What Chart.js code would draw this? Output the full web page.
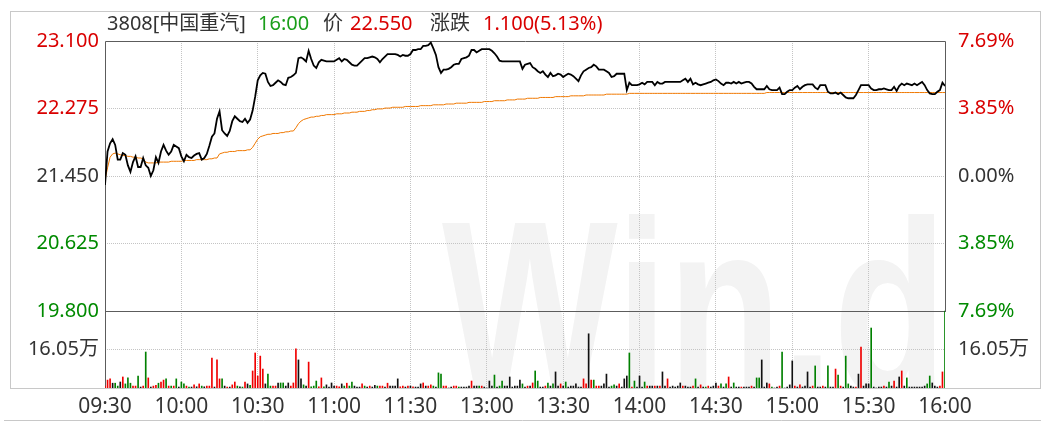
<!DOCTYPE html>
<html>
<head>
<meta charset="utf-8">
<title>3808 中国重汽 分时</title>
<script src="https://cdn.jsdelivr.net/npm/chart.js@4.4.1/dist/chart.umd.min.js"></script>
<style>
html,body{margin:0;padding:0;background:#fff;}
#wrap{width:1046px;height:428px;position:relative;}
</style>
</head>
<body>
<div id="wrap"><canvas id="chart" width="1046" height="428"></canvas></div>
<script>
// 时间刻度 (午休 12:00-13:00 不占位)
const timeLabels=['09:30','10:00','10:30','11:00','11:30','13:00','13:30','14:00','14:30','15:00','15:30','16:00'];
const prevClose=21.45;
const priceTicks=[19.8,20.625,21.45,22.275,23.1];
const pctLabels=['7.69%','3.85%','0.00%','3.85%','7.69%'];
const volTicks=[16.05];
const volTop=32.1;
const titleTexts=['3808[中国重汽]','16:00','价','22.550','涨跌','1.100(5.13%)'];

// 每分钟价格
const prices=[
21.34,21.75,21.85,21.90,21.83,21.65,21.65,21.73,21.71,21.58,
21.50,21.62,21.69,21.56,21.56,21.67,21.58,21.55,21.45,21.52,
21.68,21.61,21.75,21.83,21.76,21.71,21.75,21.83,21.81,21.79,
21.69,21.63,21.71,21.68,21.67,21.70,21.72,21.73,21.65,21.67,
21.72,21.82,21.93,21.97,22.15,22.24,22.01,21.97,21.94,22.00,
22.12,22.18,22.15,22.12,22.11,22.15,22.10,22.14,22.25,22.42,
22.62,22.68,22.71,22.70,22.60,22.55,22.56,22.59,22.62,22.60,
22.57,22.56,22.65,22.66,22.68,22.71,22.89,22.90,22.88,22.85,
22.98,22.88,22.80,22.77,22.84,22.87,22.86,22.85,22.85,22.85,
22.85,22.87,22.89,22.85,22.88,22.87,22.84,22.81,22.80,22.80,
22.83,22.86,22.89,22.89,22.90,22.91,22.90,22.88,22.84,22.88,
22.91,22.94,22.94,22.94,22.94,22.93,22.91,22.93,22.92,22.92,
22.94,22.99,22.99,23.00,23.00,23.04,23.04,23.05,23.08,23.01,
22.93,22.78,22.71,22.75,22.75,22.76,22.78,22.81,22.82,22.82,
22.88,22.89,22.90,22.92,22.99,22.99,22.96,22.98,23.00,23.00,
23.00,23.00,22.98,22.95,22.91,22.86,22.85,22.85,22.85,22.85,
22.85,22.85,22.85,22.85,22.76,22.81,22.82,22.83,22.78,22.76,
22.73,22.71,22.73,22.69,22.66,22.71,22.67,22.68,22.70,22.69,
22.66,22.68,22.70,22.69,22.67,22.64,22.61,22.68,22.73,22.75,
22.77,22.78,22.81,22.79,22.75,22.75,22.75,22.73,22.71,22.66,
22.67,22.70,22.70,22.70,22.70,22.50,22.59,22.56,22.56,22.56,
22.57,22.59,22.57,22.60,22.60,22.60,22.56,22.60,22.58,22.58,
22.60,22.60,22.60,22.60,22.60,22.60,22.60,22.62,22.64,22.60,
22.64,22.57,22.59,22.57,22.56,22.57,22.58,22.59,22.60,22.62,
22.63,22.61,22.58,22.56,22.59,22.59,22.58,22.60,22.58,22.60,
22.58,22.59,22.60,22.60,22.58,22.54,22.51,22.51,22.51,22.51,
22.55,22.51,22.50,22.50,22.50,22.53,22.45,22.45,22.48,22.50,
22.50,22.53,22.55,22.51,22.54,22.56,22.57,22.57,22.57,22.53,
22.51,22.56,22.56,22.56,22.48,22.46,22.46,22.47,22.45,22.47,
22.44,22.41,22.40,22.40,22.40,22.44,22.50,22.56,22.56,22.56,
22.56,22.52,22.50,22.50,22.51,22.51,22.52,22.51,22.50,22.50,
22.54,22.49,22.55,22.58,22.56,22.58,22.57,22.56,22.58,22.56,
22.58,22.60,22.56,22.50,22.46,22.45,22.45,22.48,22.50,22.59,
22.55];

// 均价
const avgPrices=[
21.40,21.55,21.68,21.72,21.73,21.72,21.71,21.70,21.70,21.69,
21.69,21.68,21.68,21.67,21.67,21.66,21.62,21.61,21.61,21.61,
21.61,21.62,21.62,21.62,21.62,21.62,21.63,21.63,21.63,21.63,
21.63,21.64,21.64,21.64,21.64,21.64,21.65,21.65,21.65,21.65,
21.65,21.66,21.66,21.67,21.67,21.72,21.73,21.74,21.74,21.75,
21.75,21.75,21.76,21.76,21.76,21.76,21.77,21.77,21.80,21.85,
21.90,21.93,21.94,21.95,21.96,21.96,21.97,21.97,21.97,21.98,
21.98,21.99,21.99,22.00,22.00,22.04,22.09,22.12,22.14,22.15,
22.16,22.17,22.17,22.18,22.18,22.19,22.19,22.20,22.20,22.20,
22.20,22.21,22.21,22.21,22.22,22.22,22.22,22.23,22.23,22.23,
22.24,22.24,22.24,22.25,22.25,22.26,22.26,22.27,22.27,22.27,
22.28,22.28,22.28,22.29,22.29,22.29,22.29,22.29,22.30,22.30,
22.30,22.30,22.30,22.30,22.31,22.31,22.31,22.31,22.31,22.32,
22.32,22.32,22.32,22.32,22.33,22.33,22.33,22.33,22.34,22.34,
22.34,22.34,22.34,22.35,22.35,22.35,22.35,22.35,22.35,22.36,
22.36,22.36,22.36,22.37,22.37,22.37,22.37,22.37,22.38,22.38,
22.38,22.38,22.39,22.39,22.39,22.39,22.40,22.40,22.40,22.40,
22.40,22.41,22.41,22.41,22.41,22.41,22.41,22.42,22.42,22.42,
22.42,22.42,22.42,22.43,22.43,22.43,22.43,22.43,22.43,22.44,
22.44,22.44,22.44,22.44,22.44,22.44,22.44,22.45,22.45,22.45,
22.45,22.45,22.45,22.45,22.45,22.45,22.46,22.46,22.46,22.46,
22.46,22.46,22.46,22.46,22.46,22.46,22.46,22.46,22.46,22.46,
22.46,22.46,22.46,22.46,22.46,22.46,22.46,22.46,22.46,22.46,
22.46,22.46,22.46,22.46,22.46,22.46,22.46,22.46,22.46,22.46,
22.46,22.46,22.46,22.46,22.46,22.46,22.46,22.46,22.46,22.46,
22.46,22.46,22.46,22.46,22.46,22.46,22.46,22.46,22.46,22.46,
22.47,22.47,22.47,22.47,22.47,22.47,22.47,22.47,22.47,22.47,
22.47,22.47,22.47,22.47,22.47,22.47,22.47,22.47,22.47,22.47,
22.47,22.47,22.47,22.47,22.47,22.47,22.47,22.47,22.47,22.47,
22.47,22.47,22.47,22.47,22.47,22.47,22.47,22.47,22.47,22.47,
22.47,22.47,22.47,22.47,22.47,22.47,22.47,22.47,22.47,22.47,
22.47,22.47,22.47,22.47,22.47,22.47,22.47,22.47,22.47,22.47,
22.47,22.47,22.47,22.47,22.47,22.47,22.47,22.47,22.47,22.47,
22.47];

// 成交量 (万股)
const volumes=[
0.8,3.3,3.8,2.0,2.0,0.8,2.5,4.6,1.7,4.2,
2.0,0.8,0.8,5.0,0.4,0.8,15.0,4.2,0.4,0.8,
1.1,2.0,2.5,3.3,3.8,0.8,0.8,0.8,3.8,0.4,
2.5,1.7,0.8,0.4,0.4,1.3,0.5,1.7,0.8,0.5,
0.8,0.8,12.5,0.4,11.7,3.8,3.8,0.8,0.4,0.4,
1.3,2.5,0.8,0.5,0.4,2.5,1.7,1.1,7.1,14.6,
5.0,13.3,7.9,1.7,5.8,0.8,0.8,0.8,2.1,2.1,
2.1,0.8,2.1,0.8,2.1,16.3,11.7,3.8,1.3,0.8,
10.8,0.5,0.8,2.9,0.5,4.2,0.5,1.3,0.4,2.1,
0.8,0.8,0.5,1.7,0.8,2.0,0.8,2.5,0.8,0.4,
0.4,1.7,0.8,0.4,0.8,0.4,1.1,0.8,0.8,0.8,
0.4,2.0,0.8,0.8,0.8,3.8,0.5,0.8,0.4,0.8,
0.8,0.5,0.4,0.4,1.7,2.1,0.8,0.8,1.3,0.8,
0.4,6.3,5.8,0.8,0.8,0,0.4,0.8,0.8,0.4,
0.4,0.4,0.4,0.8,2.9,0.8,0.8,0.8,0.8,0.4,
0,2.9,0.8,5.4,0.4,0.8,2.9,0.8,0.8,4.6,
0.4,0.8,0.8,3.3,1.7,0.4,0.8,0.8,2.1,7.1,
2.9,0.4,0.4,0.8,2.1,0.8,1.7,6.7,0.8,1.7,
0.8,2.5,0.4,0.8,0.8,1.7,0.4,0.4,3.8,1.7,
22.6,3.3,3.3,0.8,0.8,0.8,1.7,5.8,0.4,0.8,
1.3,0.8,1.7,0.4,3.8,5.0,14.6,0.4,2.9,0.4,
5.0,0.4,2.5,0.8,0.8,0.8,0.8,0.8,0.8,6.7,
0.8,3.8,0.4,0.8,0.4,0.8,2.1,0.8,0.8,0.4,
0.4,0.8,3.8,0.4,1.3,0.4,0.4,0.8,0.4,0.8,
2.1,0.8,1.7,0.4,1.7,4.6,0.4,2.1,0.4,0.4,
0.4,0.4,0.4,0.4,0.8,0.4,4.2,4.2,11.7,0.4,
2.1,1.7,0.4,0,0.4,0.8,15.0,0,0.4,1.3,
11.3,0.8,0.4,1.3,0.4,0.8,6.7,0.4,0.8,9.2,
0.4,0.4,0.8,0.4,9.2,0.4,0.4,7.9,5.4,0.8,
0.4,13.3,1.7,0.8,0.4,0.4,5.8,17.1,0.8,1.7,
1.7,25.0,0.4,0,0.4,0.4,0.8,0.4,2.5,0.8,
2.9,0.4,4.6,7.1,0.8,4.2,0.4,0.4,0.4,0.4,
0.4,0.4,0.8,1.7,5.0,2.1,0.8,0.4,0.8,6.7,
32.1];

// 量柱颜色: r 涨 g 跌 k 平
const volDirs=[
'rrrkggkrgg','grrgkrgrkr','rgrrgrgrgk','ggrgkrkrgk','rrrkrrgkrk',
'rrgkgrkgrr','rrrkggrrkg','gkkrrrkkgk','rgggrrgkkk','krrkgrggkk',
'krgkrkkgrr','krkkkkrrkr','krkkkrkrrg','kggrrkkrrg','kkkkrkkgrk',
'kkkgkggkkk','kkkkgkrkrg','gkkrgkgkkr','kgkkkkkkrr','krgrrkkkkg',
'gkrkkkgrgk','kkgrkkrkrk','krkkkkkrkk','krgkrkgrkk','krgkgrkgkk',
'rkkkrkggkk','krgkkrgkkk','krkrkkkkrg','kkrkgkkrgr','kggkkrkrkk',
'kgkkkkrkgk','rkkrkgkkkk','kkkggkkkrr','g'].join('');

const RED='#d90000', GREEN='#008a00', DARK='#333333', GRID='#c4c4c4';
const dirColor={r:'#f00000',g:'#008000',k:'#111111'};
const FONT='"Noto Sans", "Noto Sans CJK SC", sans-serif';

// 价格区与成交量区高度比
const pricePane=270, volPane=77;
const priceMax=priceTicks[priceTicks.length-1];
const priceMin=priceTicks[0]-(priceMax-priceTicks[0])*volPane/pricePane;
const volMax=volTop*(pricePane+volPane)/volPane;
// 成交量刻度换算到价格轴上的位置
const volTickPos=volTicks.map(v=>priceMin+v/volMax*(priceMax-priceMin));
const axisTicks=volTickPos.concat(priceTicks);
const nVol=volTicks.length;

const tickColor=(v,i)=> i<nVol?DARK:(v>prevClose+1e-9?RED:(v<prevClose-1e-9?GREEN:DARK));
const volLabel=i=>volTicks[i].toFixed(2)+'万';

const bgPlugin={
  id:'bg',
  beforeDraw(chart){
    const c=chart.ctx, a=chart.chartArea;
    c.save();
    c.fillStyle='#fff';
    c.fillRect(0,0,chart.width,chart.height);
    // 外框
    c.strokeStyle='#c8c8c8';
    c.lineWidth=1;
    c.strokeRect(10.5,11.5,1030,377);
    c.beginPath();c.moveTo(4,420.5);c.lineTo(1041,420.5);c.stroke();
    // 水印
    c.beginPath();c.rect(a.left,a.top,a.right-a.left,a.bottom-a.top);c.clip();
    c.fillStyle='#f3f3f3';
    c.font='bold 245px "Liberation Sans", Arial, sans-serif';
    c.translate(442,392);
    c.scale(0.76,1);
    c.fillText('Win.d',0,0);
    c.restore();
  },
  beforeDatasetsDraw(chart){
    const c=chart.ctx, a=chart.chartArea;
    const ySplit=Math.round(chart.scales.y.getPixelForValue(priceTicks[0]))+0.5;
    c.save();
    c.strokeStyle='#5c5c5c';
    c.lineWidth=1;
    c.beginPath();
    c.moveTo(a.left+0.5,a.bottom);c.lineTo(a.left+0.5,a.top+0.5);
    c.lineTo(a.right+0.5,a.top+0.5);c.lineTo(a.right+0.5,ySplit);
    c.moveTo(a.left,ySplit);c.lineTo(a.right+1,ySplit);
    c.stroke();
    c.restore();
  },
  afterDraw(chart){
    const c=chart.ctx;
    const xs=[107,258,323,350,430,483];
    const cols=[DARK,'#1a9e1a',DARK,RED,DARK,RED];
    c.save();
    c.font='20px '+FONT;
    c.textBaseline='middle';
    titleTexts.forEach((t,i)=>{c.fillStyle=cols[i];c.fillText(t,xs[i],24);});
    c.restore();
  }
};

const ctx=document.getElementById('chart').getContext('2d');
new Chart(ctx,{
  data:{
    datasets:[
      {type:'line',label:'价格',data:prices.map((p,i)=>({x:i,y:p})),borderColor:'#000',borderWidth:1.8,pointRadius:0,tension:0,yAxisID:'y',order:1},
      {type:'line',label:'均价',data:avgPrices.map((p,i)=>({x:i,y:p})),borderColor:'#f07800',borderWidth:1,pointRadius:0,tension:0,yAxisID:'y',order:2},
      {type:'bar',label:'成交量',data:volumes.map((v,i)=>({x:i,y:v})),backgroundColor:volumes.map((v,i)=>dirColor[volDirs[i]]),barThickness:1,yAxisID:'yv',order:3}
    ]
  },
  options:{
    responsive:false,
    animation:false,
    devicePixelRatio:1,
    layout:{padding:{top:41,left:0,right:0,bottom:0}},
    plugins:{legend:{display:false},tooltip:{enabled:false}},
    scales:{
      x:{
        type:'linear',offset:false,min:0,max:(timeLabels.length-1)*30,
        afterBuildTicks:s=>{s.ticks=timeLabels.map((t,i)=>({value:i*30}));},
        afterFit:s=>{s.height=40;},
        ticks:{callback:(v,i)=>timeLabels[i],autoSkip:false,maxRotation:0,padding:6,color:DARK,font:{family:FONT,size:21}},
        grid:{offset:false,drawTicks:false,color:c=>(c.index===0||c.index===timeLabels.length-1)?'rgba(0,0,0,0)':GRID},
        border:{display:false,dash:[1,1]}
      },
      y:{
        position:'left',min:priceMin,max:priceMax,
        afterBuildTicks:s=>{s.ticks=axisTicks.map(v=>({value:v}));},
        afterFit:s=>{s.width=105;},
        ticks:{callback:(v,i)=>i<nVol?volLabel(i):v.toFixed(3),padding:6,color:c=>tickColor(c.tick.value,c.index),font:{family:FONT,size:20}},
        grid:{drawTicks:false,color:c=>(c.index===nVol||c.index===axisTicks.length-1)?'rgba(0,0,0,0)':GRID},
        border:{display:false,dash:[1,1]}
      },
      yp:{
        position:'right',min:priceMin,max:priceMax,
        afterBuildTicks:s=>{s.ticks=axisTicks.map(v=>({value:v}));},
        afterFit:s=>{s.width=101;},
        ticks:{callback:(v,i)=>i<nVol?volLabel(i):pctLabels[i-nVol],padding:5,color:c=>tickColor(c.tick.value,c.index),font:{family:FONT,size:20}},
        grid:{display:false},
        border:{display:false}
      },
      yv:{
        display:false,min:0,max:volMax
      }
    }
  },
  plugins:[bgPlugin]
});
</script>
</body>
</html>
